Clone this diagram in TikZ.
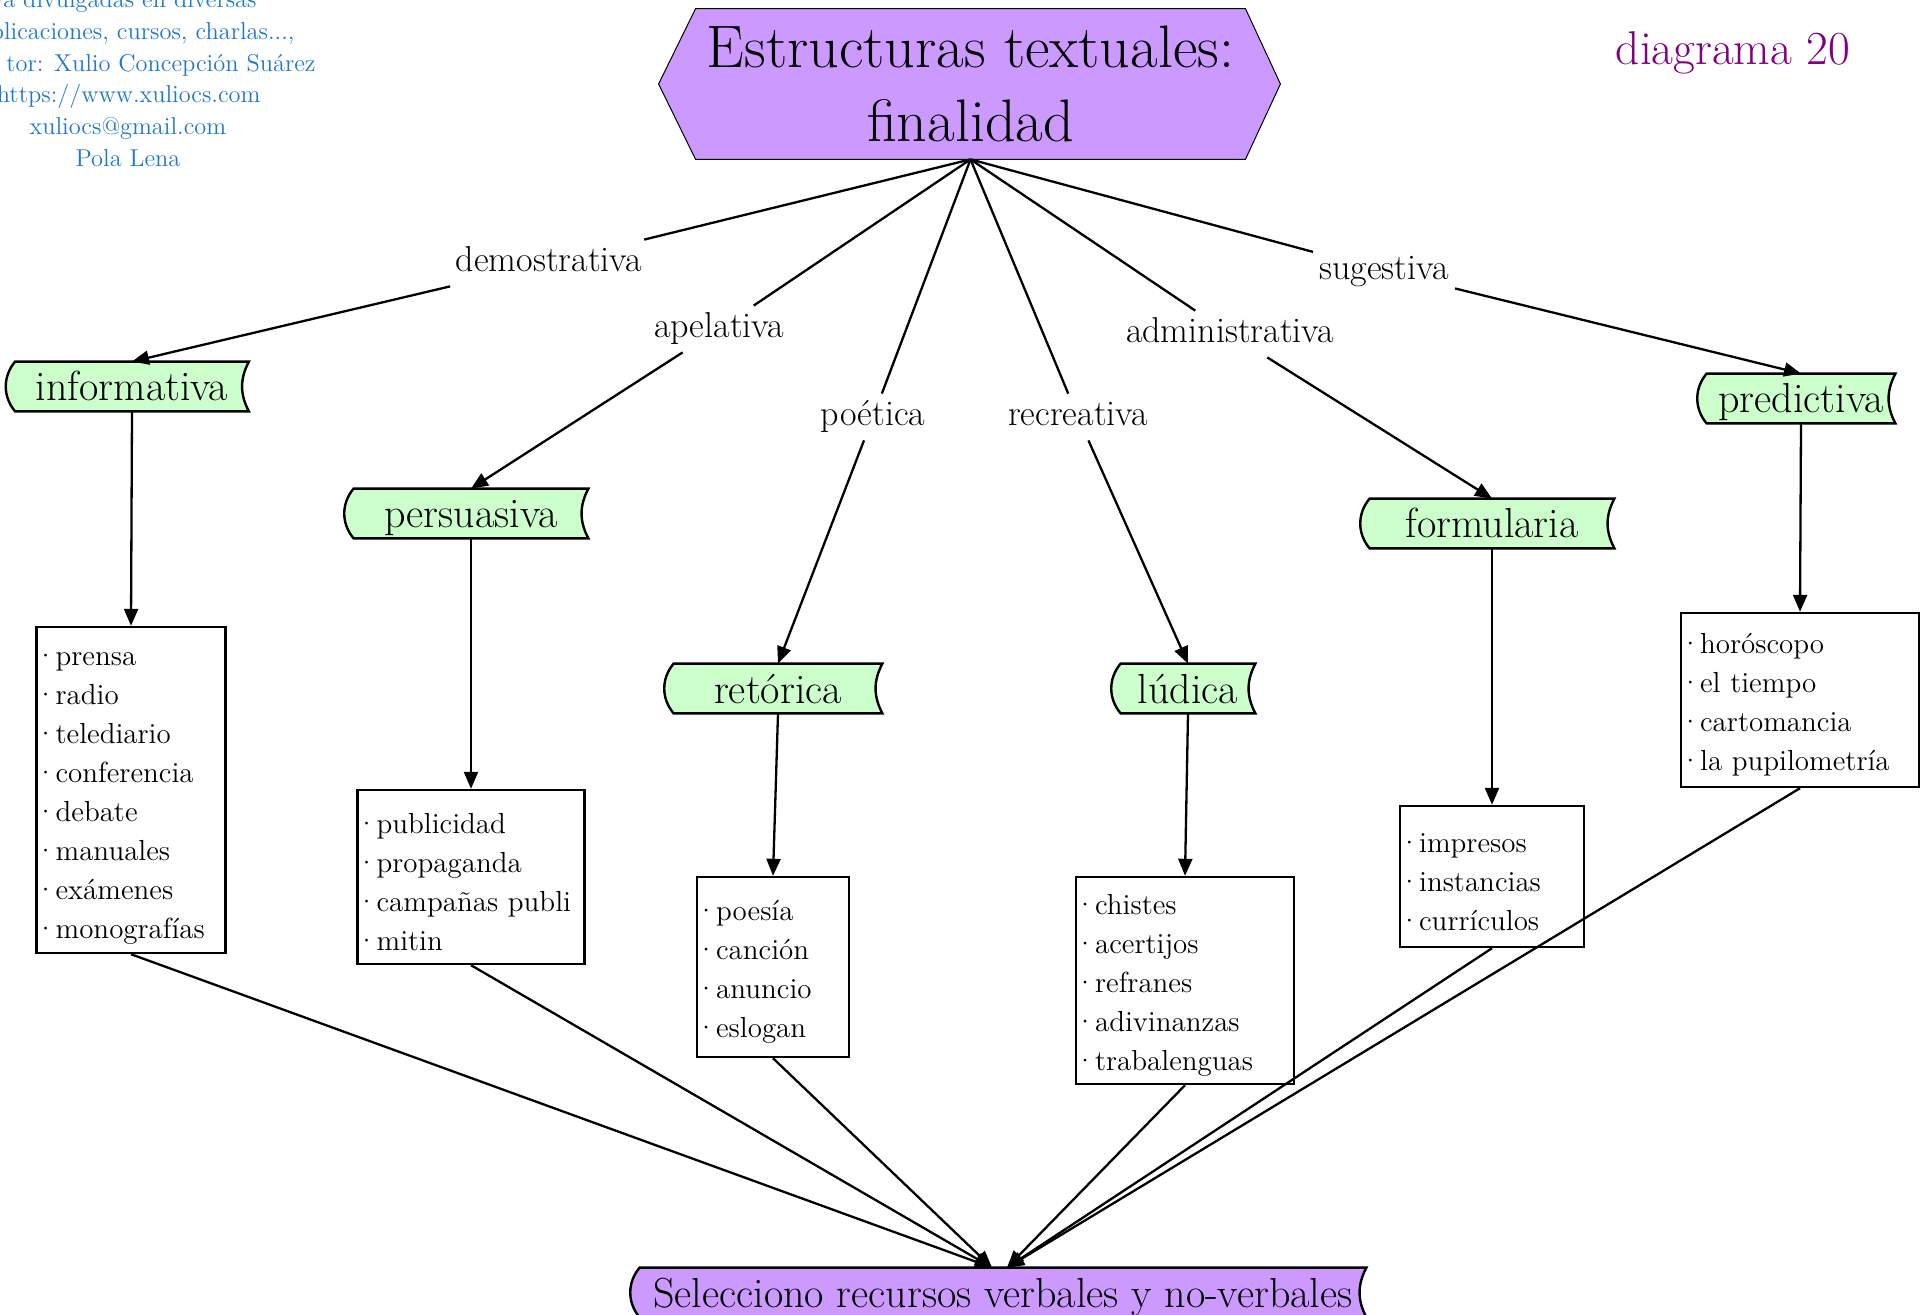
\documentclass[tikz,border=0pt]{standalone}
\usepackage{fontspec}
\usetikzlibrary{arrows.meta,backgrounds}
\definecolor{cgreen}{HTML}{CCFFCC}
\definecolor{cpurple}{HTML}{CC99FF}
\definecolor{cblue}{HTML}{1E78C8}
\definecolor{cmag}{HTML}{800080}
\newcommand\bul{\hspace*{-0.13em}\makebox[0.72em][l]{·}}
\begin{document}
\begin{tikzpicture}[x=0.5pt,y=-0.5pt,
  conn/.style={line width=1.15pt},
  arr/.style={line width=1.15pt,-{Triangle[length=8.5pt,width=7pt]}},
  gnode/.style={inner sep=0pt, minimum height=24.5pt, text height=16pt, text depth=1.5pt, font=\fontsize{21}{24}\selectfont},
  lab/.style={inner xsep=3pt, inner ysep=3pt, text height=13pt, text depth=4pt, font=\fontsize{18}{22}\selectfont},
  lst/.style={draw, line width=1.2pt, inner xsep=1pt, inner ysep=0pt, align=left,
    font=\fontsize{14.5}{19.45}\selectfont, execute at begin node={\rule{0pt}{15pt}}},
  credit/.style={text=cblue, inner sep=0pt, font=\fontsize{12.2}{16}\selectfont},
  scroll/.style={draw, line width=1.2pt}
]
\useasboundingbox (0,0) rectangle (1921,1315);

% credit text (cut at the left edge)
\node[credit, anchor=base east] (c1) at (257,8) {ya divulgadas en diversas};
\node[credit, anchor=base east] (c2) at (295,40) {plicaciones, cursos, charlas...,};
\node[credit, anchor=base east] (c3) at (316,72) {tor: Xulio Concepción Suárez};
\node[credit, anchor=base east] (c4) at (261,103) {https://www.xuliocs.com};
\node[credit, anchor=base] (c5) at (128,135) {xuliocs@gmail.com};
\node[credit, anchor=base] (c6) at (128,167) {Pola Lena};

\node[anchor=base, text=cmag, inner sep=0pt, font=\fontsize{23.7}{28}\selectfont] (dg) at (1733,65) {diagrama 20};

% root
\node[inner sep=0pt, minimum width=274.5pt, minimum height=75pt, align=center,
      font=\fontsize{30}{37}\selectfont] (root) at (970.5,84) {Estructuras textuales:\\finalidad};

% labels
\node[lab] (l1) at (549,263) {demostrativa};
\node[lab] (l2) at (719,329) {apelativa};
\node[lab] (l3) at (873,417) {poética};
\node[lab] (l4) at (1078,417) {recreativa};
\node[lab] (l5) at (1230,334) {administrativa};
\node[lab] (l6) at (1384,271) {sugestiva};

% green nodes
\node[gnode, minimum width=116.5pt] (g1) at (132,386.5) {informativa};
\node[gnode, minimum width=117pt] (g2) at (471,513.5) {persuasiva};
\node[gnode, minimum width=104pt] (g3) at (778,688.5) {retórica};
\node[gnode, minimum width=67pt] (g4) at (1188,688.5) {lúdica};
\node[gnode, minimum width=122pt] (g5) at (1492,523.5) {formularia};
\node[gnode, minimum width=94pt] (g6) at (1801,398.5) {predictiva};

% bottom node
\node[gnode, minimum width=363pt] (bot) at (1003,1292.5) {Selecciono recursos verbales y no-verbales};
\coordinate (botL) at ([xshift=-5.5pt]bot.north);
\coordinate (botR) at ([xshift=2pt]bot.north);

% lists
\node[lst, text width=92.5pt, minimum height=163pt] (infoL) at (131,790) {\bul prensa\\\bul radio\\\bul telediario\\\bul conferencia\\\bul debate\\\bul manuales\\\bul exámenes\\\bul monografías};
\node[lst, text width=111.5pt, minimum height=87pt] (persL) at (471,877) {\bul publicidad\\\bul propaganda\\\bul campañas~publi\\\bul mitin};
\node[lst, text width=74pt, minimum height=90pt] (retL) at (773,967) {\bul poesía\\\bul canción\\\bul anuncio\\\bul eslogan};
\node[lst, text width=107pt, minimum height=103.5pt] (ludL) at (1185,980.5) {\bul chistes\\\bul acertijos\\\bul refranes\\\bul adivinanzas\\\bul trabalenguas};
\node[lst, text width=90pt, minimum height=70.5pt] (formL) at (1492,876.5) {\bul impresos\\\bul instancias\\\bul currículos};
\node[lst, text width=117pt, minimum height=87pt] (predL) at (1800,700) {\bul horóscopo\\\bul el tiempo\\\bul cartomancia\\\bul la pupilometría};

% background shapes
\begin{scope}[on background layer]
  \draw[fill=cpurple, line width=0.5pt] (root.north west) -- (root.north east) -- ([xshift=17.5pt]root.east)
     -- (root.south east) -- (root.south west) -- ([xshift=-18.5pt]root.west) -- cycle;
  \foreach \n/\c in {g1/cgreen,g2/cgreen,g3/cgreen,g4/cgreen,g5/cgreen,g6/cgreen,bot/cpurple}{
    \draw[scroll, fill=\c] (\n.north west) to[bend right=40] (\n.south west) -- (\n.south east)
       to[bend left=28] (\n.north east) -- cycle;
  }
\end{scope}

% connectors
\foreach \l/\g in {l1/g1,l2/g2,l3/g3,l4/g4,l5/g5,l6/g6}{
  \draw[conn] (root.south) -- (\l);
  \draw[arr] (\l) -- (\g.north);
}
\draw[arr] (g1.south) -- (infoL.north);
\draw[arr] (g2.south) -- (persL.north);
\draw[arr] (g3.south) -- (retL.north);
\draw[arr] (g4.south) -- (ludL.north);
\draw[arr] (g5.south) -- (formL.north);
\draw[arr] (g6.south) -- (predL.north);

\draw[arr] (infoL.south) -- (botL);
\draw[arr] (persL.south) -- (botL);
\draw[arr] (retL.south) -- (botL);
\draw[arr] (ludL.south) -- (botR);
\draw[arr] (formL.south) -- (botR);
\draw[arr] (predL.south) -- (botR);
\end{tikzpicture}
\end{document}
